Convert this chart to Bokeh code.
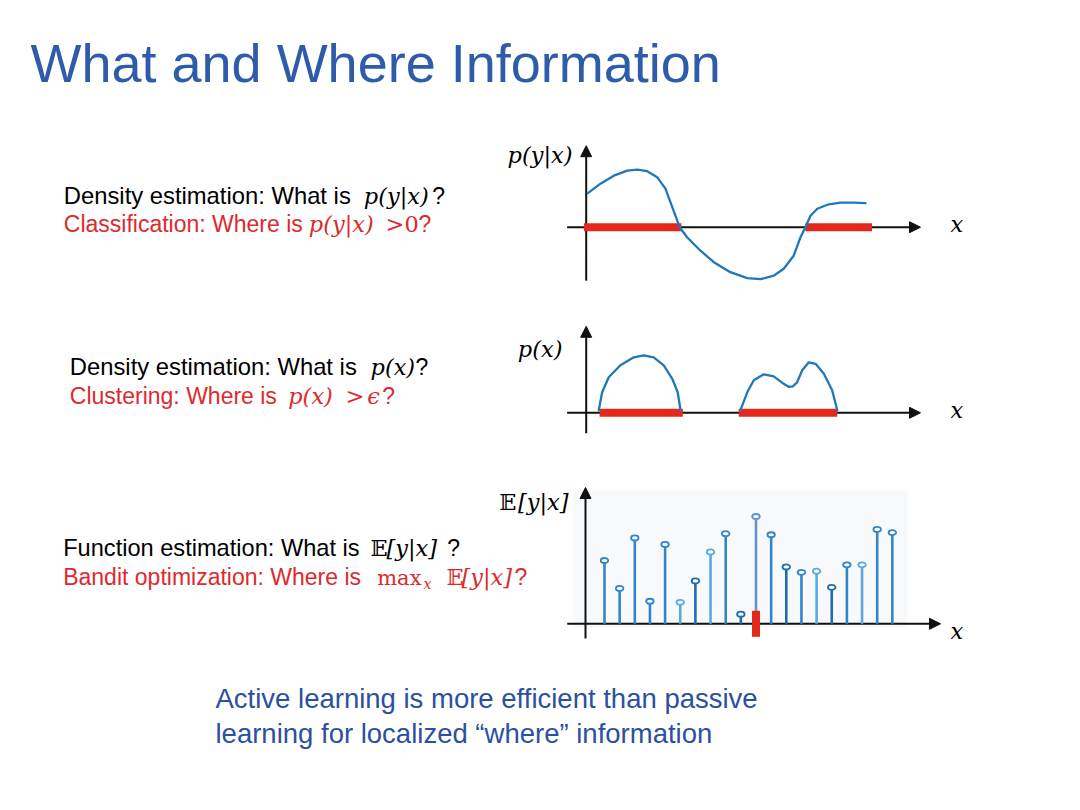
from bokeh.plotting import figure
from bokeh.models import Range1d, Arrow, NormalHead, BoxAnnotation, ColumnDataSource
from bokeh.core.properties import value
from bokeh.embed import file_html
from bokeh.resources import INLINE

# ---------------- data ----------------
# Panel 1: p(y|x) curve (x in panel units, y in panel units)
p1_x = [0.06, 0.50, 0.97, 1.44, 1.79, 2.14, 2.49, 2.78, 3.02, 3.28, 3.54, 4.01, 4.48, 5.06,
        5.65, 6.12, 6.58, 6.93, 7.28, 7.52, 7.69, 7.87, 8.11, 8.46, 8.92, 9.39, 9.80]
p1_y = [0.68, 0.87, 1.03, 1.13, 1.15, 1.12, 1.00, 0.77, 0.40, 0.00, -0.20, -0.47, -0.70, -0.90,
        -1.02, -1.04, -0.97, -0.83, -0.57, -0.20, 0.00, 0.23, 0.37, 0.45, 0.49, 0.49, 0.48]
p1_int_start = [-0.08, 7.69]
p1_int_end = [3.34, 10.03]

# Panel 2: p(x), two bumps
p2a_x = [0.44, 0.56, 0.79, 1.20, 1.67, 2.02, 2.37, 2.72, 3.02, 3.21, 3.31]
p2a_y = [0.05, 0.41, 0.71, 0.95, 1.11, 1.15, 1.11, 0.95, 0.68, 0.41, 0.05]
p2b_x = [5.41, 5.65, 5.88, 6.23, 6.58, 6.93, 7.10, 7.25, 7.40, 7.58, 7.81, 8.05, 8.34, 8.63, 8.81]
p2b_y = [0.05, 0.41, 0.65, 0.77, 0.73, 0.58, 0.52, 0.53, 0.61, 0.85, 1.01, 0.98, 0.78, 0.45, 0.05]
p2_int_start = [0.47, 5.35]
p2_int_end = [3.39, 8.81]

# Panel 3: E[y|x] samples
p3_idx = list(range(1, 21))
p3_val = [0.59, 0.33, 0.80, 0.21, 0.74, 0.20, 0.40, 0.67, 0.84, 0.09,
          1.00, 0.83, 0.53, 0.48, 0.49, 0.34, 0.55, 0.55, 0.88, 0.85]
p3_max_idx = [11]

# styles (not data)
MID, DARK, LIGHT = "#2f86cc", "#1f6cb0", "#5aa9e2"
stem_colors = [MID, MID, MID, MID, MID, LIGHT, DARK, LIGHT, MID, DARK,
               "#5f95d2", MID, DARK, MID, LIGHT, DARK, MID, LIGHT, MID, MID]

BLUE = "#1f78b8"
RED = "#e3291e"
TXT_RED = "#dc2a2e"
TITLE_BLUE = "#2e5caa"
NOTE_BLUE = "#2b50a0"
SANS = value("Liberation Sans")
SERIF = value("DejaVu Serif")

# frame placement on the page (screen px)
FX0, FY0, FW, FH = 0, 0, 1064, 794

# ---------------- figure ----------------
p = figure(width=FW, height=FH, x_range=Range1d(FX0, FX0 + FW), y_range=Range1d(FY0 + FH, FY0),
           output_backend="svg", toolbar_location=None, x_axis_type=None, y_axis_type=None,
           min_border=0)
p.grid.visible = False
p.outline_line_color = None
p.background_fill_color = "white"
p.border_fill_color = "white"


def add_panel(name, ox, sx, oy, sy):
    p.extra_x_ranges[name] = Range1d((FX0 - ox) / sx, (FX0 + FW - ox) / sx)
    p.extra_y_ranges[name] = Range1d((oy - FY0 - FH) / sy, (oy - FY0) / sy)
    return dict(x_range_name=name, y_range_name=name)


P1 = add_panel("p1", 585.7, 28.5, 226.7, 50.0)
P2 = add_panel("p2", 585.7, 28.5, 412.3, 50.0)
P3 = add_panel("p3", 588.85, 15.15, 623.3, 107.3)

# faint background of panel 3
p.add_layout(BoxAnnotation(left=573, right=907, top=490, bottom=627, fill_color="#f8f9fa",
                           fill_alpha=1.0, line_color=None, level="underlay"))


def axis_arrow(rng, x0, y0, x1, y1):
    p.add_layout(Arrow(end=NormalHead(size=11, fill_color="#111111", line_color="#111111",
                                      line_width=1),
                       x_start=x0, y_start=y0, x_end=x1, y_end=y1, line_width=2,
                       line_color="#111111", level="underlay", **rng))


# axes
axis_arrow(P1, -0.67, 0, 11.73, 0)
axis_arrow(P1, 0, -1.07, 0, 1.63)
axis_arrow(P2, -0.67, 0, 11.73, 0)
axis_arrow(P2, 0, -0.41, 0, 1.73)
axis_arrow(P3, -1.46, 0, 23.18, 0)
axis_arrow(P3, -0.254, -0.137, -0.254, 1.27)

# panel 1
p.segment(x0=p1_int_start, y0=[0, 0], x1=p1_int_end, y1=[0, 0], line_width=8,
          line_color=RED, line_cap="butt", **P1)
p.line(p1_x, p1_y, line_width=2.3, line_color=BLUE, line_join="round", line_cap="round", **P1)

# panel 2
p.segment(x0=p2_int_start, y0=[0, 0], x1=p2_int_end, y1=[0, 0], line_width=8,
          line_color=RED, line_cap="butt", **P2)
p.line(p2a_x, p2a_y, line_width=2.3, line_color=BLUE, line_join="round", line_cap="round", **P2)
p.line(p2b_x, p2b_y, line_width=2.3, line_color=BLUE, line_join="round", line_cap="round", **P2)

# panel 3
src3 = ColumnDataSource(dict(x=p3_idx, y=p3_val, zero=[0] * len(p3_idx), c=stem_colors))
p.segment(x0="x", y0="zero", x1="x", y1="y", line_width=2.6, line_color="c", source=src3, **P3)
p.rect(x=p3_max_idx, y=[0], width=8, height=26, width_units="screen", height_units="screen",
       fill_color=RED, line_color=None, **P3)
p.ellipse(x="x", y="y", width=7.5, height=5, width_units="screen", height_units="screen",
          fill_color="white", line_color="c", line_width=1.8, source=src3, **P3)


# ---------------- texts ----------------
def txt(x, b, s, font, size, color, style="normal", align="left"):
    # b is the visual baseline; rendered text is vertically centred on y
    y = b - 0.36 * size
    p.text(x=[x], y=[y], text=[s], text_font=font, text_font_size=f"{size}px",
           text_color=color, text_font_style=style, text_align=align,
           text_baseline="alphabetic")


txt(30, 82, "What and Where Information", SANS, 54, TITLE_BLUE)

S = 23
M = 22.5
# row 1
txt(63.3, 203.3, "Density estimation: What is ", SANS, 23.8, "black")
txt(363.3, 203.3, "p(y|x)", SERIF, M, "black", "italic")
txt(431.7, 203.3, "?", SANS, S, "black")
txt(63.3, 231.7, "Classification: Where is ", SANS, S, TXT_RED)
txt(308.3, 231.7, "p(y|x)", SERIF, M, TXT_RED, "italic")
txt(385, 231.7, ">", SERIF, M, TXT_RED)
txt(404, 231.7, "0", SERIF, M, TXT_RED)
txt(418, 231.7, "?", SANS, S, TXT_RED)

# row 2
txt(69.3, 375, "Density estimation: What is ", SANS, 23.8, "black")
txt(370, 375, "p(x)", SERIF, M, "black", "italic")
txt(415, 375, "?", SANS, S, "black")
txt(69.3, 403.3, "Clustering: Where is ", SANS, S, TXT_RED)
txt(287.7, 403.3, "p(x)", SERIF, M, TXT_RED, "italic")
txt(345, 403.3, ">", SERIF, M, TXT_RED)
txt(366.7, 403.3, "\u03f5", SERIF, M, TXT_RED, "italic")
txt(381.7, 403.3, "?", SANS, S, TXT_RED)

# row 3
txt(62.7, 556, "Function estimation: What is ", SANS, 23.6, "black")
txt(370, 556, "\U0001D53C", SERIF, M, "black")
txt(386, 556, "[y|x]", SERIF, M, "black", "italic")
txt(446.7, 556, "?", SANS, S, "black")
txt(62.7, 585, "Bandit optimization: Where is ", SANS, S, TXT_RED)
txt(376.7, 585, "max", SERIF, 21, TXT_RED)
txt(423, 589, "x", SERIF, 14, TXT_RED, "italic")
txt(446, 585, "\U0001D53C", SERIF, M, TXT_RED)
txt(461, 585, "[y|x]", SERIF, M, TXT_RED, "italic")
txt(514, 585, "?", SANS, S, TXT_RED)

# panel labels
txt(572, 163, "p(y|x)", SERIF, M, "black", "italic", "right")
txt(950, 232, "x", SERIF, M, "black", "italic")
txt(562, 357, "p(x)", SERIF, M, "black", "italic", "right")
txt(950, 418, "x", SERIF, M, "black", "italic")
txt(568, 510, "[y|x]", SERIF, M, "black", "italic", "right")
txt(516, 510, "\U0001D53C", SERIF, M, "black", "normal", "right")
txt(950, 639, "x", SERIF, M, "black", "italic")

# bottom note
txt(215, 708, "Active learning is more efficient than passive", SANS, 27.5, NOTE_BLUE)
txt(215, 743, "learning for localized \u201cwhere\u201d information", SANS, 27.5, NOTE_BLUE)

open("out.html", "w").write(file_html(p, INLINE))
